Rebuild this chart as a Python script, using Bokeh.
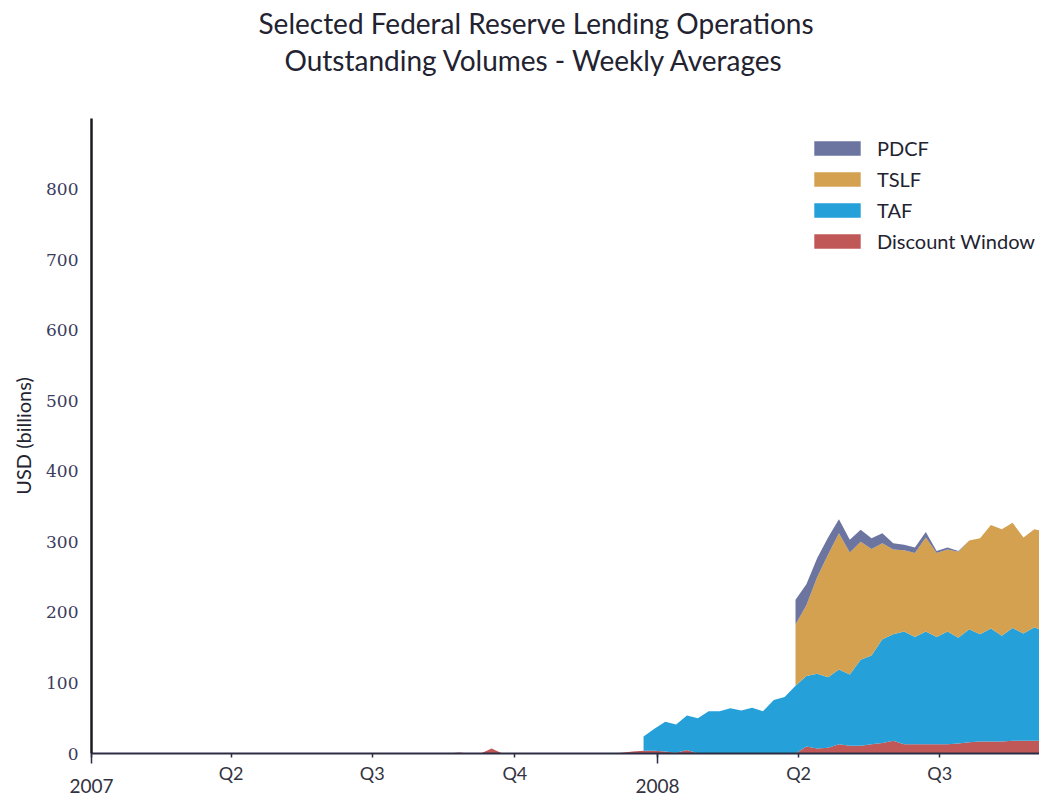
import pandas as pd
from bokeh.plotting import figure
from bokeh.models import (FixedTicker, Range1d, Legend, LegendItem, Title, DatetimeAxis)
from bokeh.embed import file_html
from bokeh.resources import INLINE

# ---------------- data (USD billions, weekly averages) ----------------
weeks = pd.date_range("2007-01-07", periods=88, freq="7D")

discount_window = [0.0] * 88
for k, v in {33: 1.5, 36: 7, 48: 1, 49: 3, 50: 4, 51: 4, 52: 3, 53: 1, 54: 5, 55: 0.5,
             65: 10, 66: 7, 67: 8, 68: 13, 69: 11, 70: 11, 71: 13, 72: 15, 73: 18,
             74: 13, 75: 13, 76: 13, 77: 13, 78: 13, 79: 14, 80: 16, 81: 17, 82: 17,
             83: 17, 84: 18, 85: 18, 86: 18, 87: 18}.items():
    discount_window[k] = v

taf_start = 50
taf = [20, 31, 42, 40, 49, 49.5, 60, 60, 64, 61, 65, 60, 76, 80, 96, 100, 106, 100,
       106, 101, 122, 126, 147, 151, 160, 152, 160, 152, 160, 150, 160, 152, 160, 150,
       160, 152, 161, 154]

tslf_start = 64
tslf = [87, 100, 137, 174, 193, 173, 167, 151, 136, 120, 115, 119, 133, 119, 116, 122,
        126, 136, 147, 151, 149, 136, 139, 142]

pdcf_start = 64
pdcf = [35, 30, 27, 24, 20, 18, 17, 15, 14, 9, 8, 8, 8, 3, 3, 1, 0, 0, 0, 0, 0, 0, 0, 0]

y_ticks = [0, 100, 200, 300, 400, 500, 600, 700, 800]
quarter_dates = ["2007-01-01", "2007-04-01", "2007-07-01", "2007-10-01",
                 "2008-01-01", "2008-04-01", "2008-07-01"]
quarter_labels = ["", "Q2", "Q3", "Q4", "", "Q2", "Q3"]
year_dates = ["2007-01-01", "2008-01-01"]
year_labels = ["2007", "2008"]

series_names = ["Discount Window", "TAF", "TSLF", "PDCF"]
series_colors = ["#c05858", "#25a0d8", "#d3a150", "#6c74a0"]

title_lines = ["Selected Federal Reserve Lending Operations",
               "Outstanding Volumes - Weekly Averages"]

# ---------------- cumulative stacking ----------------
n = len(weeks)
full = {
    "Discount Window": discount_window,
    "TAF": [0.0] * taf_start + taf,
    "TSLF": [0.0] * tslf_start + tslf,
    "PDCF": [0.0] * pdcf_start + pdcf,
}
starts = {"Discount Window": 0, "TAF": taf_start, "TSLF": tslf_start, "PDCF": pdcf_start}

def ms(d):
    return pd.Timestamp(d).value / 1e6

p = figure(width=1039, height=797, x_axis_type="datetime",
           x_range=Range1d(ms("2007-01-01"), ms("2008-09-03 08:00")),
           y_range=Range1d(0, 900),
           output_backend="svg", toolbar_location=None,
           min_border_left=91, min_border_right=0, min_border_top=118,
           min_border_bottom=44)

lower = [0.0] * n
renderers = {}
for name, color in zip(series_names, series_colors):
    upper = [a + b for a, b in zip(lower, full[name])]
    s = starts[name]
    r = p.varea(x=list(weeks[s:]), y1=lower[s:], y2=upper[s:], fill_color=color,
                fill_alpha=1.0)
    renderers[name] = r
    lower = upper

# ---------------- styling ----------------
p.grid.visible = False
p.outline_line_color = None
p.background_fill_color = "white"

xa = p.xaxis[0]
xa.ticker = FixedTicker(ticks=[ms(d) for d in quarter_dates],
                        minor_ticks=[ms(d) for d in year_dates])
xa.major_label_overrides = {ms(d): lab for d, lab in zip(quarter_dates, quarter_labels)}
xa.major_tick_out = 4
xa.major_tick_in = 0
xa.minor_tick_out = 10
xa.minor_tick_in = 0
xa.axis_line_width = 2
xa.axis_line_color = "#2b2d42"
xa.major_tick_line_color = "#2b2d42"
xa.minor_tick_line_color = "#2b2d42"
xa.major_tick_line_width = 1.5
xa.minor_tick_line_width = 1.5
xa.major_label_text_font = "Lato"
xa.major_label_text_font_size = "18px"
xa.major_label_text_color = "#333340"
xa.major_label_standoff = -2

# second (outer) axis carrying the year labels
ya2 = DatetimeAxis(ticker=FixedTicker(ticks=[ms(d) for d in year_dates], minor_ticks=[]),
                   major_label_overrides={ms(d): lab for d, lab in zip(year_dates, year_labels)},
                   axis_line_color=None, major_tick_line_color=None,
                   minor_tick_line_color=None, major_tick_out=0, major_tick_in=0,
                   minor_tick_out=0, minor_tick_in=0,
                   major_label_standoff=-8,
                   major_label_text_font="Lato", major_label_text_font_size="19px",
                   major_label_text_color="#333340")
p.add_layout(ya2, "below")

ya = p.yaxis[0]
ya.ticker = FixedTicker(ticks=y_ticks)
ya.major_tick_out = 0
ya.major_tick_in = 0
ya.minor_tick_out = 0
ya.minor_tick_in = 0
ya.axis_line_width = 2.5
ya.axis_line_color = "#1a1a22"
ya.major_label_text_font = "DejaVu Serif"
ya.major_label_text_font_size = "17px"
ya.major_label_text_color = "#3b3b5c"
ya.major_label_standoff = 13
ya.axis_label = "USD (billions)"
ya.axis_label_text_font = "Lato"
ya.axis_label_text_font_style = "normal"
ya.axis_label_text_font_size = "20px"
ya.axis_label_text_color = "#222230"
ya.axis_label_standoff = 8

legend = Legend(items=[LegendItem(label=nm, renderers=[renderers[nm]])
                       for nm in ["PDCF", "TSLF", "TAF", "Discount Window"]],
                location=(717, 500))
legend.border_line_color = None
legend.background_fill_alpha = 0
legend.padding = 0
legend.margin = 0
legend.glyph_width = 58
legend.glyph_height = 18
legend.label_standoff = 11
legend.spacing = 7
legend.label_text_font = "Lato"
legend.label_text_font_size = "20px"
legend.label_text_color = "#222230"
p.add_layout(legend)

# title: two lines; the line nearest the plot is added first
p.add_layout(Title(text=title_lines[1], align="left", offset=193, standoff=81,
                   vertical_align="middle",
                   text_font="Lato", text_font_size="28px", text_font_style="normal",
                   text_color="#222230"), "above")
p.add_layout(Title(text=title_lines[0], align="left", offset=167, standoff=-77,
                   text_font="Lato", text_font_size="28px", text_font_style="normal",
                   text_color="#222230"), "above")

open("out.html", "w").write(file_html(p, INLINE))
